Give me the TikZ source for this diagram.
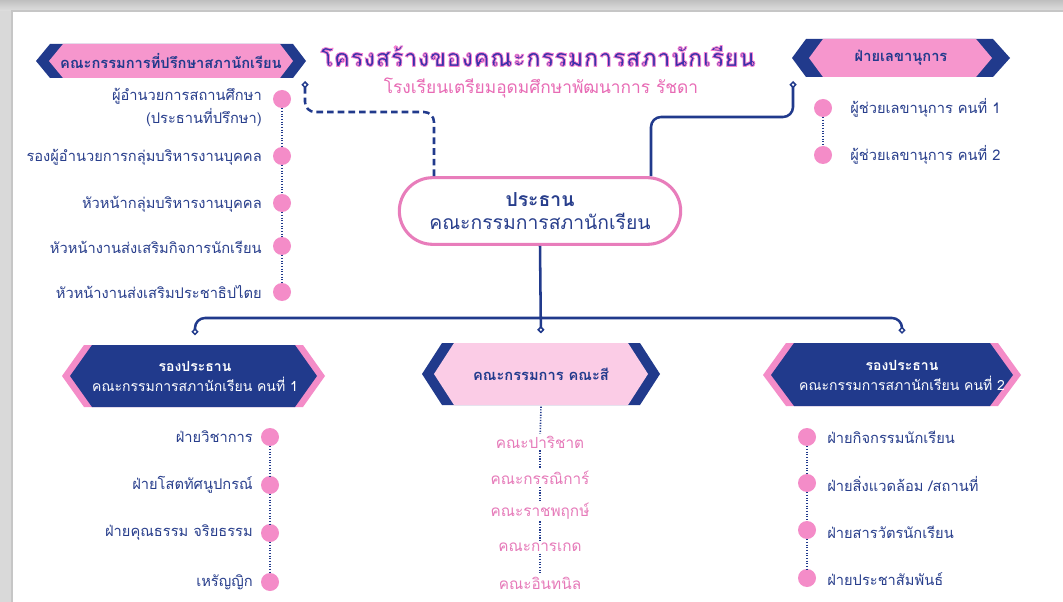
\documentclass[tikz,border=0pt]{standalone}
\usepackage{fontspec}
\setmainfont[Script=Thai]{Loma}
\usetikzlibrary{arrows.meta}
\definecolor{navy}{RGB}{33,58,140}
\definecolor{txtnavy}{RGB}{40,62,140}
\definecolor{dotpink}{RGB}{244,140,200}
\definecolor{banpink}{RGB}{246,150,205}
\definecolor{palepink}{RGB}{251,204,230}
\definecolor{subpink}{RGB}{232,107,181}
\definecolor{listpink}{RGB}{230,122,185}
\definecolor{ringpink}{RGB}{232,125,187}
\definecolor{titleblue}{RGB}{58,50,170}
\begin{document}
\begin{tikzpicture}[x=0.75pt,y=-0.75pt,
  conn/.style={draw=navy,line width=1.9pt,rounded corners=7.5pt},
  tipd/.style={-{Diamond[open,length=5.5pt,width=5.5pt,line width=1.1pt]}},
  dotnode/.style={circle,fill=dotpink,minimum size=13.5pt,inner sep=0pt},
  dotline/.style={draw=navy,line width=1.2pt,dash pattern=on 0.9pt off 1.1pt},
  litem/.style={text=txtnavy,font=\fontsize{11}{17}\selectfont,inner sep=0pt},
  citem/.style={text=listpink,font=\fontsize{11.5}{14}\selectfont,inner sep=1.5pt},
  bantext/.style={text=navy,font=\bfseries\fontsize{11}{14}\selectfont,inner sep=0pt},
  vptext/.style={text=white,align=center,font=\fontsize{10.5}{15}\selectfont,inner sep=0pt},
]
\useasboundingbox (0,0) rectangle (1063,602);
% page frame
\fill[gray!30] (0,0) rectangle (1063,602);
\shade[top color=gray!50,bottom color=gray!25] (0,0) rectangle (1063,11);
\fill[gray!45] (11,10) rectangle (1063,602);
\fill[white] (13,12) rectangle (1063,602);

% title (filled and outlined glyphs)
\node (title) at (538,56) {\fontsize{18.5}{22}\selectfont\bfseries\textcolor{titleblue}{\special{pdf:literal direct q 2 Tr 0.6 w 1 J 1 j 0.97 0.5 0.82 RG}โครงสร้างของคณะกรรมการสภานักเรียน\special{pdf:literal direct Q}}};
\node[text=subpink,font=\fontsize{13}{16}\selectfont] (subtitle) at (541,88) {โรงเรียนเตรียมอุดมศึกษาพัฒนาการ รัชดา};

% top-left banner
\fill[navy] (36,61) -- (50,44) -- (293,44) -- (306,61) -- (293,78) -- (50,78) -- cycle;
\fill[banpink] (49,61) -- (63,44) -- (280,44) -- (293,61) -- (280,78) -- (63,78) -- cycle;
\node[bantext,minimum height=25.5pt] (adv) at (171,61) {คณะกรรมการที่ปรึกษาสภานักเรียน};

% top-right banner
\fill[navy] (792,58) -- (806,39) -- (993,39) -- (1010,58) -- (993,77) -- (806,77) -- cycle;
\fill[banpink] (809,58) -- (823,39) -- (976,39) -- (992,58) -- (976,77) -- (823,77) -- cycle;
\node[bantext,minimum height=28.5pt] (sec) at (901,58) {ฝ่ายเลขานุการ};

% chair
\node[draw=ringpink,line width=2.3pt,fill=white,rounded corners=25pt,minimum width=211pt,minimum height=50pt,align=center,text=txtnavy,font=\fontsize{14.5}{17}\selectfont] (chair) at (540,211) {{\bfseries ประธาน}\\คณะกรรมการสภานักเรียน};

% top connectors
\coordinate (advend) at (305,81);
\coordinate (secend) at (793,81);
\draw[conn,dashed,dash pattern=on 5pt off 3pt,tipd] ([xshift=-79.5pt]chair.north) |- (305,112) -- (advend);
\draw[conn,tipd] ([xshift=83.25pt]chair.north) |- (793,117) -- (secend);

% bottom banners
\fill[dotpink] (62,376) -- (84,345) -- (303,345) -- (325,376) -- (303,407) -- (84,407) -- cycle;
\fill[navy] (70,376) -- (92,345) -- (295,345) -- (317,376) -- (295,407) -- (92,407) -- cycle;
\node[vptext,minimum height=46.5pt] (vp1) at (195,376) {{\bfseries รองประธาน}\\คณะกรรมการสภานักเรียน คนที่ 1};

\fill[navy] (422,374) -- (442,343) -- (640,343) -- (660,374) -- (640,405) -- (442,405) -- cycle;
\fill[palepink] (434,374) -- (454,343) -- (628,343) -- (648,374) -- (628,405) -- (454,405) -- cycle;
\node[bantext,minimum height=46.5pt] (colors) at (541,374) {คณะกรรมการ คณะสี};

\fill[dotpink] (763,375) -- (786,343) -- (998,343) -- (1021,375) -- (998,406) -- (786,406) -- cycle;
\fill[navy] (771,375) -- (794,343) -- (990,343) -- (1013,375) -- (990,406) -- (794,406) -- cycle;
\node[vptext,minimum height=47.25pt] (vp2) at (902,375) {{\bfseries รองประธาน}\\คณะกรรมการสภานักเรียน คนที่ 2};

% bottom connectors
\coordinate (hb) at (541,318);
\draw[conn,tipd,shorten >=7pt] (chair.south) -- (colors.north);
\draw[conn,tipd,shorten >=7pt] (hb) -| (vp1.north);
\draw[conn,tipd,shorten >=7pt] (hb) -| (vp2.north);

% advisory list
\foreach \n/\y in {1/99,2/156,3/203,4/246,5/292} \node[dotnode] (a\n) at (282,\y) {};
\draw[dotline] (a1) -- (a2) -- (a3) -- (a4) -- (a5);
\node[litem,anchor=north east,align=right] (ta1) at (262,88) {ผู้อำนวยการสถานศึกษา\\(ประธานที่ปรึกษา)};
\node[litem,anchor=east] (ta2) at (262,157) {รองผู้อำนวยการกลุ่มบริหารงานบุคคล};
\node[litem,anchor=east] (ta3) at (262,204) {หัวหน้ากลุ่มบริหารงานบุคคล};
\node[litem,anchor=east] (ta4) at (262,247) {หัวหน้างานส่งเสริมกิจการนักเรียน};
\node[litem,anchor=east] (ta5) at (262,292) {หัวหน้างานส่งเสริมประชาธิปไตย};

% secretary list
\node[dotnode] (s1) at (823,108) {};
\node[dotnode] (s2) at (823,155) {};
\draw[dotline] (s1) -- (s2);
\node[litem,anchor=west] (ts1) at (850,108) {ผู้ช่วยเลขานุการ คนที่ 1};
\node[litem,anchor=west] (ts2) at (850,155) {ผู้ช่วยเลขานุการ คนที่ 2};

% bottom-left list
\foreach \n/\y in {1/437,2/485,3/533,4/582} \node[dotnode] (b\n) at (270,\y) {};
\draw[dotline] (b1) -- (b2) -- (b3) -- (b4);
\node[litem,anchor=east] (tb1) at (253,437) {ฝ่ายวิชาการ};
\node[litem,anchor=east] (tb2) at (253,485) {ฝ่ายโสตทัศนูปกรณ์};
\node[litem,anchor=east] (tb3) at (253,533) {ฝ่ายคุณธรรม จริยธรรม};
\node[litem,anchor=east] (tb4) at (253,582) {เหรัญญิก};

% center list
\node[citem] (c1) at (540,442) {คณะปาริชาต};
\node[citem] (c2) at (540,478) {คณะกรรณิการ์};
\node[citem] (c3) at (540,511) {คณะราชพฤกษ์};
\node[citem] (c4) at (540,547) {คณะการเกด};
\node[citem] (c5) at (540,583) {คณะอินทนิล};
\draw[dotline] ([yshift=-1pt]colors.south) -- (c1);
\draw[dotline] (c1) -- (c2);
\draw[dotline] (c2) -- (c3);
\draw[dotline] (c3) -- (c4);
\draw[dotline] (c4) -- (c5);

% bottom-right list
\foreach \n/\y in {1/437,2/483,3/530,4/578} \node[dotnode] (r\n) at (807,\y) {};
\draw[dotline] (r1) -- (r2) -- (r3) -- (r4);
\node[litem,anchor=west] (tr1) at (827,437) {ฝ่ายกิจกรรมนักเรียน};
\node[litem,anchor=west] (tr2) at (827,484) {ฝ่ายสิ่งแวดล้อม /สถานที่};
\node[litem,anchor=west] (tr3) at (827,532) {ฝ่ายสารวัตรนักเรียน};
\node[litem,anchor=west] (tr4) at (827,579) {ฝ่ายประชาสัมพันธ์};
\end{tikzpicture}
\end{document}
